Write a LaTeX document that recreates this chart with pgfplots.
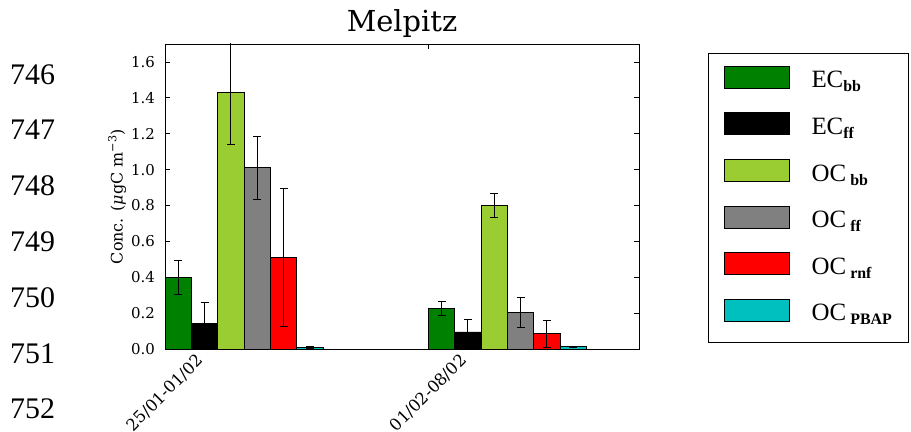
\documentclass[border=0pt]{standalone}
\usepackage{fontspec}
\setmainfont{DejaVu Serif}
\newfontfamily\tnr{Liberation Serif}
\usepackage{pgfplots}
\pgfplotsset{compat=1.18}
\definecolor{cgreen}{HTML}{008000}
\definecolor{cyg}{HTML}{9ACD32}
\definecolor{cgray}{HTML}{808080}
\definecolor{cred}{HTML}{FF0000}
\definecolor{ccyan}{HTML}{00BFBF}
\newcommand{\sub}[1]{\raisebox{-4bp}{\fontsize{16}{16}\selectfont\bfseries #1}}
\pgfplotsset{
  mybar/.style={ybar, bar width=0.1, bar shift=0pt, draw=black, line width=0.8bp, fill=#1,
    legend image code/.code={\draw[fill=#1, draw=black, line width=1bp] (0bp,-7bp) rectangle (65bp,15bp);},
    error bars/.cd, y dir=both, y explicit,
    error bar style={black, line width=0.8bp},
    error mark options={black, mark size=4bp, line width=0.8bp, rotate=90}},
}
\begin{document}
\begin{tikzpicture}
\path[use as bounding box] (0,0) rectangle (911bp,432bp);
\foreach \n [count=\k from 0] in {746,747,748,749,750,751,752}{
  \node[anchor=base west, inner sep=0pt, font=\tnr\fontsize{30}{30}\selectfont] at (10bp,{(348-55.8*\k)*1bp}) {\n};
}
\begin{axis}[
  at={(165bp,83bp)}, anchor=south west,
  width=474bp, height=305bp, scale only axis,
  xmin=0, xmax=1.8, ymin=0, ymax=1.7,
  xtick={0,1}, xticklabels={25/01-01/02, 01/02-08/02},
  ytick={0,0.2,0.4,0.6,0.8,1.0,1.2,1.4,1.6},
  /pgf/number format/fixed, /pgf/number format/fixed zerofill, /pgf/number format/precision=1,
  /pgf/number format/assume math mode=true,
  tick align=inside, major tick length=5bp,
  tick style={black, line width=0.8bp},
  axis line style={black, line width=0.9bp},
  ticklabel style={font=\fontsize{15}{15}\selectfont},
  yticklabel style={anchor=east, inner xsep=0pt, xshift=-10bp},
  xticklabel style={yshift=-44bp, rotate=45, anchor=center, font=\fontsize{16.5}{16.5}\selectfont},
  ylabel={Conc. (\textit{μ}gC m\textsuperscript{−3})},
  every axis y label/.style={at={(axis description cs:-0.101,0.5)}, rotate=90, anchor=center, font=\fontsize{16}{16}\selectfont},
  title={Melpitz},
  title style={font=\fontsize{29}{29}\selectfont, at={(axis description cs:0.5,1)}, anchor=base, yshift=7bp},
  legend cell align=left,
  legend style={at={(axis description cs:1.1456,0.9705)}, anchor=north west,
    draw=black, line width=1bp, inner xsep=15bp, inner ysep=4.5bp,
    font=\tnr\fontsize{25}{25}\selectfont,
    nodes={text height=30bp, text depth=16.6bp, inner ysep=0pt, inner xsep=2bp},
    row sep=0pt,
    /tikz/every odd column/.append style={column sep=20bp}},
]
\addplot[mybar=cgreen] coordinates {(0.05,0.40) +- (0,0.095) (1.05,0.225) +- (0,0.04)};
\addlegendentry{EC\sub{bb}}
\addplot[mybar=black] coordinates {(0.15,0.14) +- (0,0.12) (1.15,0.095) +- (0,0.07)};
\addlegendentry{EC\sub{ff}}
\addplot[mybar=cyg] coordinates {(0.25,1.43) +- (0,0.29) (1.25,0.80) +- (0,0.067)};
\addlegendentry{OC\,\sub{bb}}
\addplot[mybar=cgray] coordinates {(0.35,1.01) +- (0,0.175) (1.35,0.205) +- (0,0.082)};
\addlegendentry{OC\,\sub{ff}}
\addplot[mybar=cred] coordinates {(0.45,0.51) +- (0,0.385) (1.45,0.085) +- (0,0.077)};
\addlegendentry{OC\,\sub{rnf}}
\addplot[mybar=ccyan] coordinates {(0.55,0.01) +- (0,0.004) (1.55,0.013) +- (0,0.004)};
\addlegendentry{OC\,\sub{PBAP}}
\end{axis}
\end{tikzpicture}
\end{document}
